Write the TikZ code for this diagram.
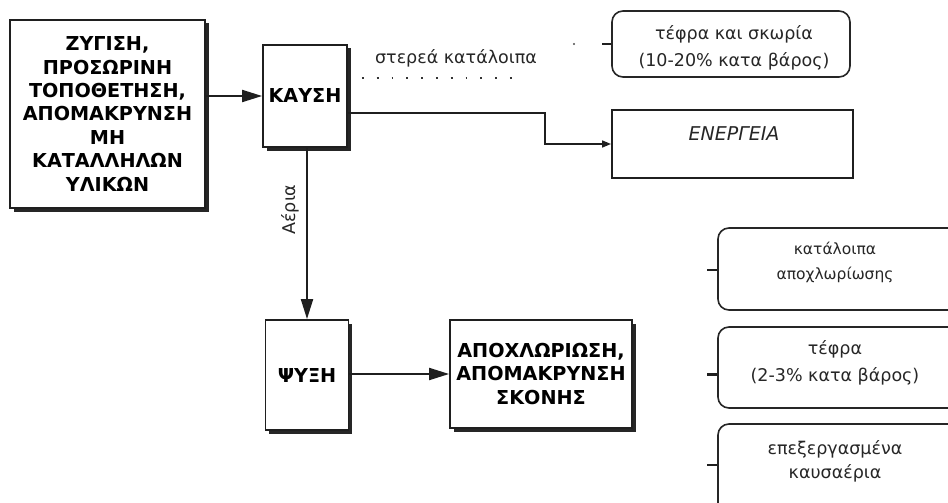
\documentclass[tikz,border=0pt]{standalone}
\usepackage{fontspec}
\setmainfont{DejaVu Sans}
\usetikzlibrary{arrows.meta,shadows,calc}

\tikzset{
  x=1pt, y=-1pt,
  stage/.style={draw=black!88, line width=1.8pt, fill=white, inner sep=2pt,
    align=center, font=\bfseries\fontsize{19.2}{23.4}\selectfont,
    drop shadow={shadow xshift=3.5pt, shadow yshift=-3.5pt, fill=black!85, opacity=1}},
  result/.style={draw=black!85, line width=1.6pt, rounded corners=11pt, fill=none},
  outbox/.style={draw=black!88, line width=1.9pt, fill=none},
  note/.style={align=center, font=\fontsize{17.5}{26.5}\selectfont, text=black!85},
  flow/.style={draw=black!88, line width=2pt, -{Triangle[length=20pt,width=12pt]}},
  wire/.style={draw=black!88, line width=1.6pt},
  tick/.style={draw=black!88, line width=2.6pt},
  residue/.style={draw=black!80, line width=1.8pt, dash pattern=on 1.8pt off 13pt},
}

\begin{document}
\begin{tikzpicture}
\useasboundingbox (0,0) rectangle (948,503);
\clip (0,0) rectangle (948,503);

% process stages
\node[stage, minimum width=195pt, minimum height=188pt] (prep) at (107.5,114)
  {ΖΥΓΙΣΗ,\\ΠΡΟΣΩΡΙΝΗ\\ΤΟΠΟΘΕΤΗΣΗ,\\ΑΠΟΜΑΚΡΥΝΣΗ\\ΜΗ\\ΚΑΤΑΛΛΗΛΩΝ\\ΥΛΙΚΩΝ};
\node[stage, minimum width=84pt, minimum height=102pt] (burn) at (305,96) {ΚΑΥΣΗ};
\node[stage, minimum width=83pt, minimum height=110pt] (cool) at (307,375) {ΨΥΞΗ};
\node[stage, minimum width=182pt, minimum height=108pt] (clean) at (541,374)
  {ΑΠΟΧΛΩΡΙΩΣΗ,\\ΑΠΟΜΑΚΡΥΝΣΗ\\ΣΚΟΝΗΣ};

% products
\node[result, minimum width=238pt, minimum height=66pt] (slag) at (731,44) {};
\node[note] (slagt) at (734,48) {τέφρα και σκωρία\\(10-20\% κατα βάρος)};

\node[outbox, minimum width=241pt, minimum height=68pt] (energy) at (732.5,144) {};
\node[font=\itshape\fontsize{19}{22}\selectfont, text=black!85] (energyt) at (734,134) {ΕΝΕΡΓΕΙΑ};

\node[result, minimum width=250pt, minimum height=82pt] (r1) at (843,269) {};
\node[note, font=\fontsize{15.5}{25}\selectfont] (r1t) at (835,262) {κατάλοιπα\\αποχλωρίωσης};
\node[result, minimum width=250pt, minimum height=81pt] (r2) at (843,367.5) {};
\node[note] (r2t) at (835,363) {τέφρα\\(2-3\% κατα βάρος)};
\node[result, minimum width=250pt, minimum height=90pt] (r3) at (843,469) {};
\node[note, font=\fontsize{17.5}{24}\selectfont] (r3t) at (835,461) {επεξεργασμένα\\καυσαέρια};

% connectors
\draw[flow] (prep.east |- burn.west) -- (burn.west);
\draw[flow] (burn.south -| cool.north) -- (cool.north)
  node[pos=0.36, left=4pt, rotate=90, anchor=south, font=\fontsize{17.5}{20}\selectfont, text=black!85] (gas) {Αέρια};
\draw[flow] (cool.east |- clean.west) -- (clean.west);

\coordinate (bend1) at (545,113);
\coordinate (bend2) at (545,144);
\draw[wire] (burn.east |- bend1) -- (bend1) -- (bend2) -- ($(energy.west)+(-12,0)$);
\draw[draw=black!88, line width=1.6pt, -{Triangle[length=9pt,width=7pt]}] ($(energy.west)+(-13,0)$) -- (energy.west);

% solid residue path
\coordinate (dots) at (515,78);
\draw[residue] ($(burn.east |- dots)+(14,0)$) -- (dots);
\node[font=\fontsize{17.5}{20}\selectfont, text=black!85] (solid) at (456,58) {στερεά κατάλοιπα};
\fill[black!70] (574,44) circle (1.2pt);

\draw[tick] ($(slag.west)+(-9,0)$) -- (slag.west);
\draw[tick] ($(r1.west)+(-10,1)$) -- ($(r1.west)+(0,1)$);
\draw[tick] ($(r2.west)+(-10,7)$) -- ($(r2.west)+(0,7)$);
\draw[tick] ($(r3.west)+(-10,-4)$) -- ($(r3.west)+(0,-4)$);
\end{tikzpicture}
\end{document}
